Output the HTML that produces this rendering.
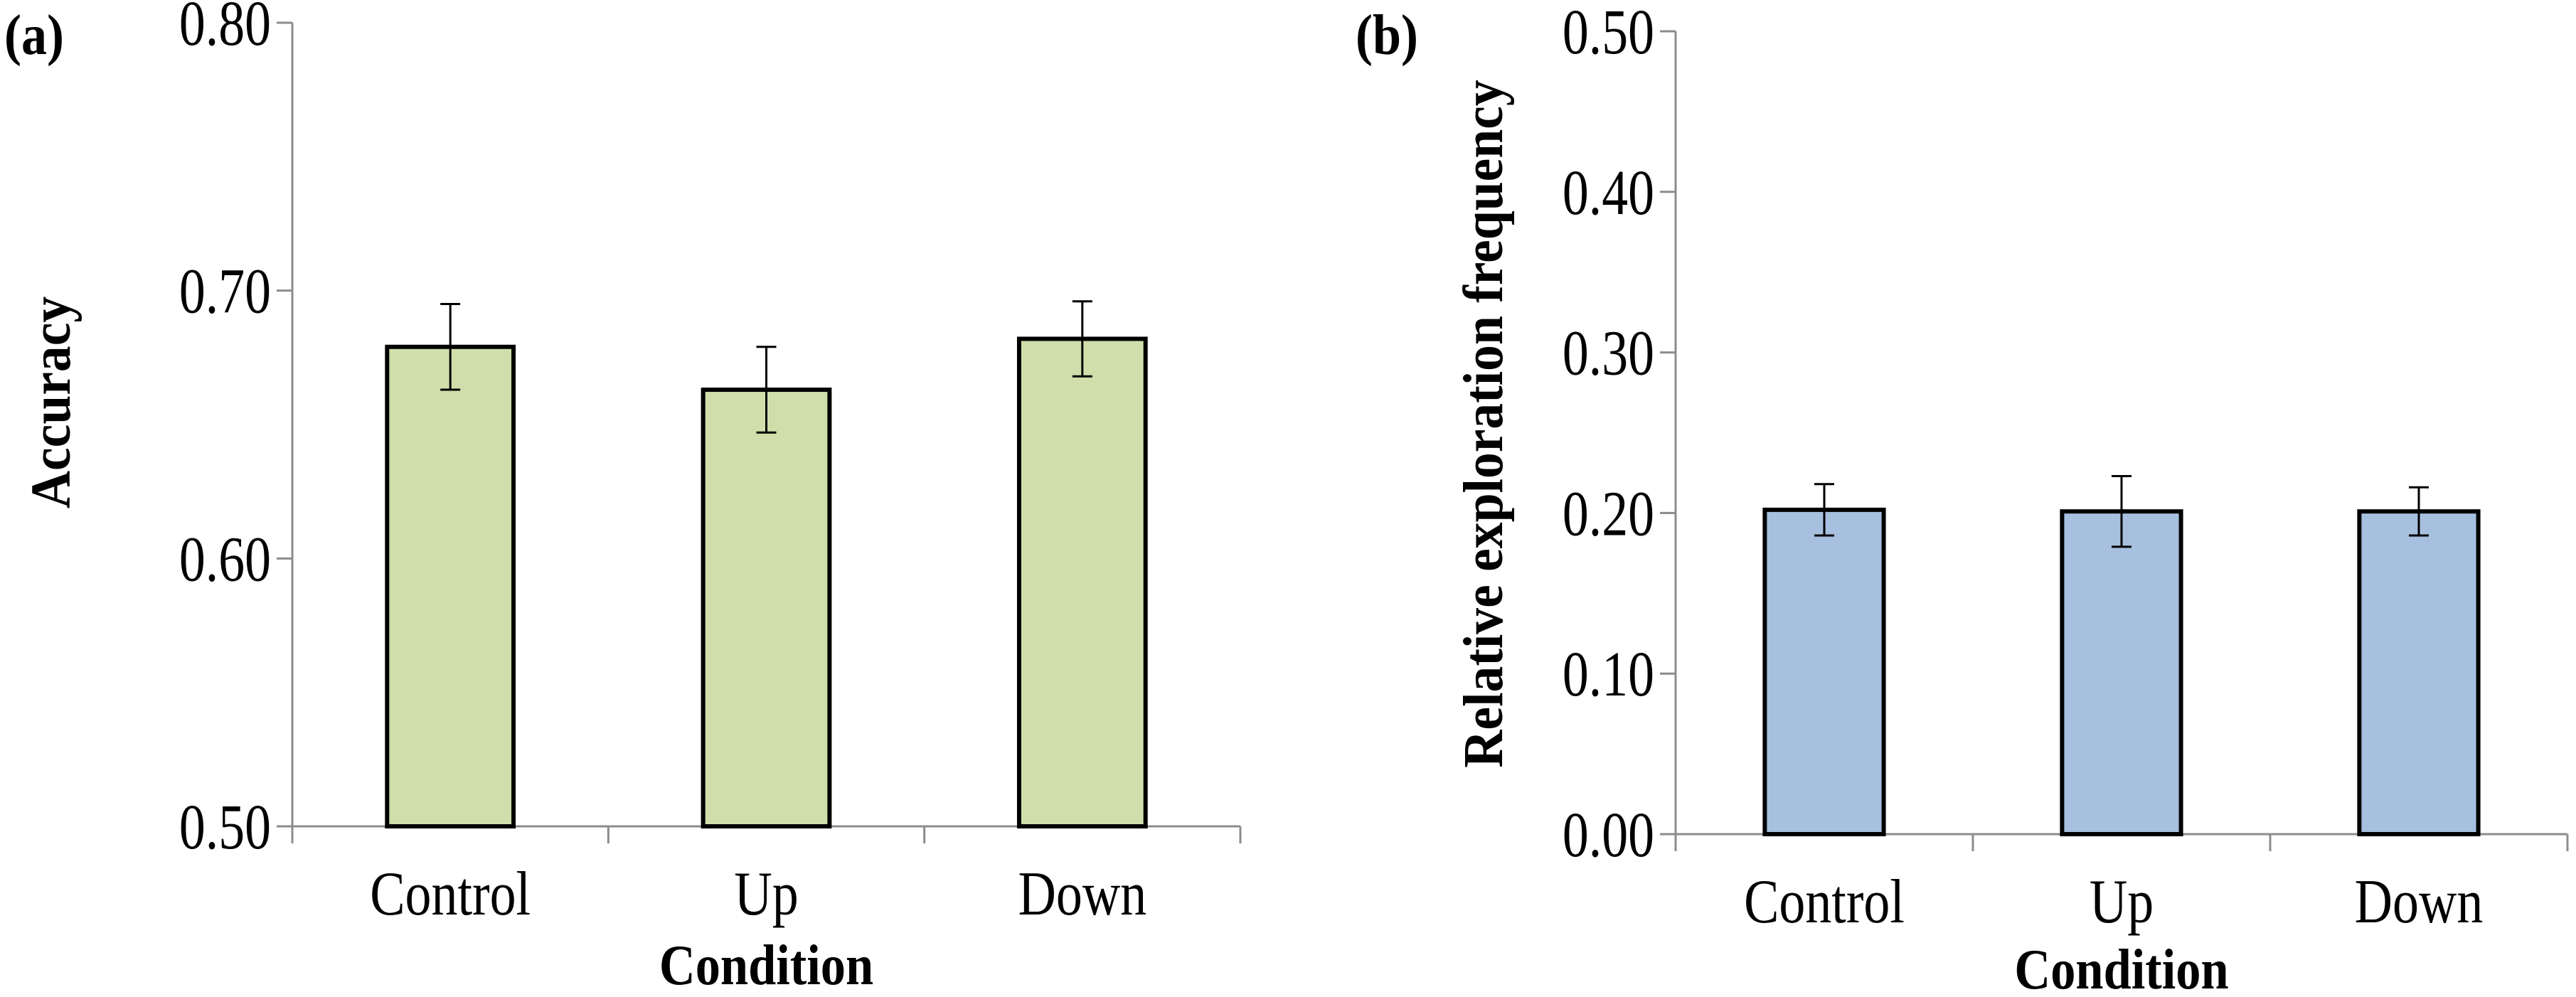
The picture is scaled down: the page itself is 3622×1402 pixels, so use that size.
<!DOCTYPE html>
<html><head><meta charset="utf-8"><style>
html,body{margin:0;padding:0;background:#fff;}
svg{display:block;font-family:"Liberation Serif",serif;}
</style></head><body>
<svg id="chart" width="3622" height="1402" viewBox="0 0 3622 1402" xmlns="http://www.w3.org/2000/svg"></svg>
<script>
const categories = ["Control", "Up", "Down"];
const accuracyValues = [0.679, 0.663, 0.682];
const accuracyErrors = [0.016, 0.016, 0.014];
const accuracyTicks = ["0.50", "0.60", "0.70", "0.80"];
const explorationValues = [0.202, 0.201, 0.201];
const explorationErrors = [0.016, 0.022, 0.015];
const explorationTicks = ["0.00", "0.10", "0.20", "0.30", "0.40", "0.50"];

const NS = "http://www.w3.org/2000/svg";
const svg = document.getElementById("chart");
function mk(tag, attrs, parent) {
  const e = document.createElementNS(NS, tag);
  for (const k in attrs) e.setAttribute(k, attrs[k]);
  (parent || svg).appendChild(e);
  return e;
}
// condensed text: placed at (x,y), scaled horizontally
function ctext(parent, x, y, str, size, anchor, bold, sx, rot) {
  const t = mk("text", {x: 0, y: 0, "text-anchor": anchor, "font-size": size,
    transform: `translate(${x},${y})` + (rot ? " rotate(-90)" : "") + ` scale(${sx},1)`}, parent);
  if (bold) t.setAttribute("font-weight", "bold");
  t.textContent = str;
  return t;
}

function panel(cfg) {
  const g = mk("g", {});
  
  
  const y = v => cfg.y0 - (v - cfg.vmin) / (cfg.vmax - cfg.vmin) * (cfg.y0 - cfg.y1);
  const cw = (cfg.x1 - cfg.x0) / categories.length;
  const xc = i => cfg.x0 + cw * (i + 0.5);
  const ya = mk("line", {x1: cfg.x0, y1: y(cfg.vmax), x2: cfg.x0, y2: cfg.y0, stroke: "#8c8c8c", "stroke-width": 3}, g);
  
  
  cfg.ticks.forEach(t => {
    const v = parseFloat(t);
    mk("line", {x1: cfg.x0 - 22, y1: y(v), x2: cfg.x0, y2: y(v), stroke: "#8c8c8c", "stroke-width": 3}, g);
    const tx = ctext(g, cfg.x0 - 30, y(v) + 31, t, 90, "end", false, 0.82);
    
    
  });
  const xa = mk("line", {x1: cfg.x0, y1: cfg.y0, x2: cfg.x1, y2: cfg.y0, stroke: "#8c8c8c", "stroke-width": 3}, g);
  
  
  for (let i = 0; i <= categories.length; i++) {
    mk("line", {x1: cfg.x0 + cw * i, y1: cfg.y0, x2: cfg.x0 + cw * i, y2: cfg.y0 + 24, stroke: "#8c8c8c", "stroke-width": 3}, g);
  }
  categories.forEach((c, i) => {
    const bw = cw * 0.4;
    const b = mk("rect", {x: xc(i) - bw / 2, y: y(cfg.values[i]), width: bw, height: cfg.y0 - y(cfg.values[i]), fill: cfg.color, stroke: "#000", "stroke-width": 6}, g);
    
    
    const hi = y(cfg.values[i] + cfg.errors[i]), lo = y(cfg.values[i] - cfg.errors[i]);
    const eg = mk("g", {stroke: "#000", "stroke-width": 3}, g);
    
    
    mk("line", {x1: xc(i), y1: hi, x2: xc(i), y2: lo}, eg);
    mk("line", {x1: xc(i) - 14, y1: hi, x2: xc(i) + 14, y2: hi}, eg);
    mk("line", {x1: xc(i) - 14, y1: lo, x2: xc(i) + 14, y2: lo}, eg);
    const l = ctext(g, xc(i), cfg.y0 + 124, c, 88, "middle", false, 0.84);
    
    
  });
  const xt = ctext(g, (cfg.x0 + cfg.x1) / 2, cfg.xtY, "Condition", 80, "middle", true, 0.88);
  
  
  const yt = ctext(g, cfg.ytX, cfg.ytY, cfg.ytitle, 80, "middle", true, 0.92, true);
  
  
  const pl = ctext(g, cfg.plX, 76, cfg.label, 80, "start", true, 0.9);
  
  
}

panel({name: "panel-a-accuracy", x0: 411, x1: 1744, y0: 1162, y1: 32, vmin: 0.5, vmax: 0.8,
  ticks: accuracyTicks, values: accuracyValues, errors: accuracyErrors, color: "#d0deab",
  xtY: 1384, ytitle: "Accuracy", ytX: 98, ytY: 566, label: "(a)", plX: 6});
panel({name: "panel-b-exploration", x0: 2356, x1: 3610, y0: 1173, y1: 44, vmin: 0, vmax: 0.5,
  ticks: explorationTicks, values: explorationValues, errors: explorationErrors, color: "#a7c0df",
  xtY: 1390, ytitle: "Relative exploration frequency", ytX: 2112, ytY: 596, label: "(b)", plX: 1906});
</script>
</body></html>
